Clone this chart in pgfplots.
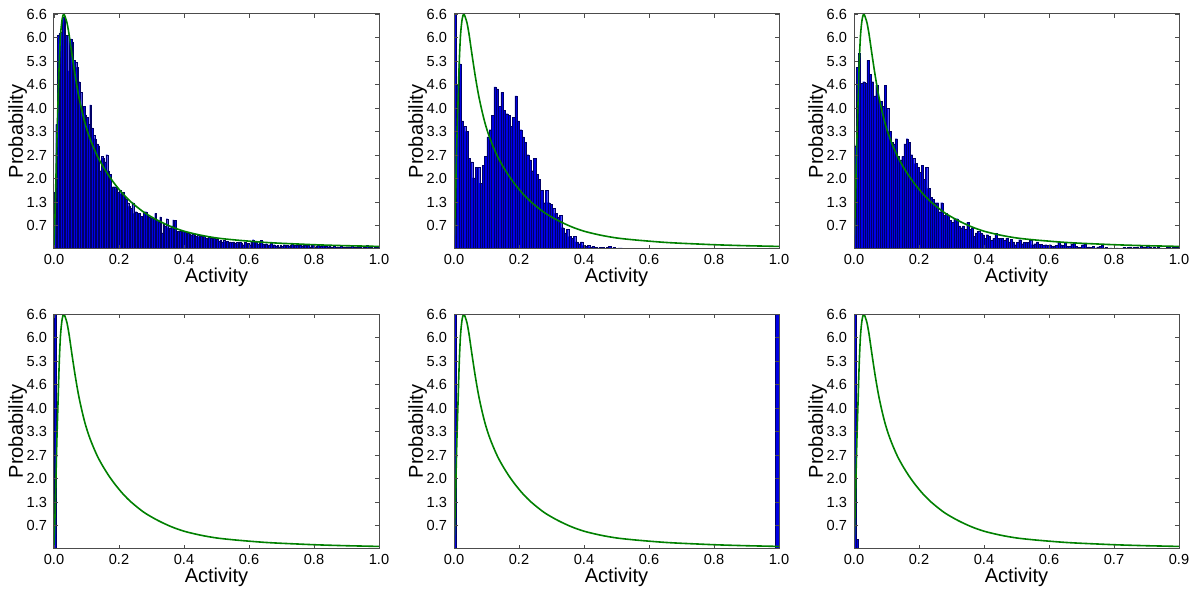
\documentclass[border=0pt]{standalone}
\usepackage{pgfplots}
\usepackage{pgfplotstable}
\usepackage{fontspec}
\setmainfont{Liberation Sans}
\pgfplotsset{compat=1.18}

\definecolor{curvegreen}{rgb}{0,0.5,0}

% fitted density
\pgfplotstableread[row sep=\\]{
x y\\
0 0\\ 0.003 0.9\\ 0.006 2.0\\ 0.009 3.1\\ 0.012 4.0\\ 0.016 5.2\\ 0.02 6.0\\ 0.025 6.45\\
0.03 6.6\\ 0.035 6.5\\ 0.04 6.35\\ 0.046 6.05\\ 0.05 5.8\\ 0.056 5.42\\ 0.065 4.88\\ 0.075 4.35\\
0.085 3.92\\ 0.095 3.55\\ 0.105 3.25\\ 0.115 3.0\\ 0.125 2.78\\ 0.135 2.58\\ 0.15 2.33\\ 0.17 2.04\\
0.19 1.79\\ 0.21 1.57\\ 0.23 1.38\\ 0.25 1.22\\ 0.28 1.01\\ 0.32 0.8\\ 0.36 0.63\\ 0.4 0.5\\
0.45 0.39\\ 0.5 0.31\\ 0.55 0.26\\ 0.6 0.22\\ 0.65 0.185\\ 0.7 0.16\\ 0.75 0.14\\ 0.8 0.12\\
0.85 0.105\\ 0.9 0.092\\ 0.95 0.082\\ 1.0 0.072\\
}\curve

% panel 1 histogram, bin width 0.005
\pgfplotstableread[row sep=\\]{
x y\\
0.0025 1.6\\ 0.0075 3.5\\ 0.0125 6.0\\ 0.0175 6.05\\ 0.0225 6.1\\ 0.0275 6.5\\ 0.0325 6.5\\ 0.0375 6.0\\
0.0425 6.0\\ 0.0475 5.0\\ 0.0525 5.9\\ 0.0575 5.8\\ 0.0625 5.3\\ 0.0675 5.25\\ 0.0725 5.1\\ 0.0775 4.7\\
0.0825 4.4\\ 0.0875 3.95\\ 0.0925 4.0\\ 0.0975 3.77\\ 0.1025 3.7\\ 0.1075 3.5\\ 0.1125 4.05\\ 0.1175 3.4\\
0.1225 3.2\\ 0.1275 3.1\\ 0.1325 2.95\\ 0.1375 2.9\\ 0.1425 2.2\\ 0.1475 2.6\\ 0.1525 2.55\\ 0.1575 2.45\\
0.1625 2.65\\ 0.1675 2.2\\ 0.1725 2.1\\ 0.1775 1.4\\ 0.1825 1.75\\ 0.1875 1.75\\ 0.1925 1.7\\ 0.1975 1.6\\
0.2025 1.65\\ 0.2075 1.55\\ 0.2125 1.6\\ 0.2175 1.48\\ 0.2225 1.4\\ 0.2275 1.3\\ 0.2325 1.2\\ 0.2375 1.15\\
0.2425 1.3\\ 0.2475 1.0\\ 0.2525 1.05\\ 0.2575 0.95\\ 0.2625 1.0\\ 0.2675 0.92\\ 0.2725 0.9\\ 0.2775 1.05\\
0.2825 1.05\\ 0.2875 0.95\\ 0.2925 0.9\\ 0.2975 0.87\\ 0.3025 0.88\\ 0.3075 0.85\\ 0.3125 1.0\\ 0.3175 0.8\\
0.3225 0.75\\ 0.3275 0.9\\ 0.3325 0.45\\ 0.3375 0.7\\ 0.3425 0.65\\ 0.3475 0.85\\ 0.3525 0.6\\ 0.3575 0.6\\
0.3625 0.65\\ 0.3675 0.82\\ 0.3725 0.8\\ 0.3775 0.45\\ 0.3825 0.5\\ 0.3875 0.5\\ 0.3925 0.48\\ 0.3975 0.5\\
0.4025 0.47\\ 0.4075 0.45\\ 0.4125 0.45\\ 0.4175 0.42\\ 0.4225 0.4\\ 0.4275 0.42\\ 0.4325 0.38\\ 0.4375 0.35\\
0.4425 0.4\\ 0.4475 0.33\\ 0.4525 0.35\\ 0.4575 0.3\\ 0.4625 0.35\\ 0.4675 0.3\\ 0.4725 0.18\\ 0.4775 0.32\\
0.4825 0.3\\ 0.4875 0.28\\ 0.4925 0.3\\ 0.4975 0.25\\ 0.5025 0.27\\ 0.5075 0.22\\ 0.5125 0.25\\ 0.5175 0.2\\
0.5225 0.24\\ 0.5275 0.2\\ 0.5325 0.22\\ 0.5375 0.15\\ 0.5425 0.2\\ 0.5475 0.18\\ 0.5525 0.2\\ 0.5575 0.17\\
0.5625 0.18\\ 0.5675 0.15\\ 0.5725 0.2\\ 0.5775 0.17\\ 0.5825 0.12\\ 0.5875 0.18\\ 0.5925 0.15\\ 0.5975 0.16\\
0.6025 0.12\\ 0.6075 0.22\\ 0.6125 0.26\\ 0.6175 0.15\\ 0.6225 0.18\\ 0.6275 0.14\\ 0.6325 0.2\\ 0.6375 0.24\\
0.6425 0.15\\ 0.6475 0.12\\ 0.6525 0.15\\ 0.6575 0.1\\ 0.6625 0.12\\ 0.6675 0.16\\ 0.6725 0.1\\ 0.6775 0.12\\
0.6825 0.08\\ 0.6875 0.1\\ 0.6925 0.06\\ 0.6975 0.1\\ 0.7025 0.08\\ 0.7075 0.12\\ 0.7125 0.06\\ 0.7175 0.1\\
0.7225 0.08\\ 0.7275 0.1\\ 0.7325 0.15\\ 0.7375 0.08\\ 0.7425 0.1\\ 0.7475 0.12\\ 0.7525 0.06\\ 0.7575 0.1\\
0.7625 0.08\\ 0.7675 0.13\\ 0.7725 0.1\\ 0.7775 0.08\\ 0.7825 0.12\\ 0.7875 0.06\\ 0.7925 0.1\\ 0.7975 0.14\\
0.8025 0.05\\ 0.8075 0.08\\ 0.8125 0.1\\ 0.8175 0.06\\ 0.8225 0.08\\ 0.8275 0.1\\ 0.8325 0.05\\ 0.8375 0.08\\
0.8425 0.06\\ 0.8475 0.1\\ 0.8525 0.06\\ 0.8575 0.05\\ 0.8625 0.08\\ 0.8675 0.05\\ 0.8725 0.06\\ 0.8775 0.04\\
0.8825 0.08\\ 0.8875 0.05\\ 0.8925 0.06\\ 0.8975 0.04\\ 0.9025 0.05\\ 0.9075 0.06\\ 0.9125 0.03\\ 0.9175 0.1\\
0.9225 0.05\\ 0.9275 0.06\\ 0.9325 0.04\\ 0.9375 0.05\\ 0.9425 0.06\\ 0.9475 0.03\\ 0.9525 0.05\\ 0.9575 0.04\\
0.9625 0.1\\ 0.9675 0.06\\ 0.9725 0.04\\ 0.9775 0.05\\ 0.9825 0.03\\ 0.9875 0.06\\ 0.9925 0.04\\ 0.9975 0.05\\
}\histA

% panel 2 histogram, bin width 0.0072
\pgfplotstableread[row sep=\\]{
x y\\
0.0036 9\\ 0.0108 4.6\\ 0.018 5.2\\ 0.0252 3.6\\ 0.0324 3.45\\ 0.0396 3.3\\ 0.0468 2.55\\ 0.054 2.45\\
0.0612 2.0\\ 0.0684 2.3\\ 0.0756 2.3\\ 0.0828 1.85\\ 0.09 2.35\\ 0.0972 2.6\\ 0.1044 3.15\\ 0.1116 3.35\\
0.1188 3.75\\ 0.126 4.55\\ 0.1332 4.5\\ 0.1404 4.0\\ 0.1476 4.4\\ 0.1548 3.9\\ 0.162 3.8\\ 0.1692 3.75\\
0.1764 3.45\\ 0.1836 3.7\\ 0.1908 4.3\\ 0.198 3.6\\ 0.2052 3.35\\ 0.2124 3.15\\ 0.2196 3.0\\ 0.2268 2.65\\
0.234 2.5\\ 0.2412 2.2\\ 0.2484 2.55\\ 0.2556 2.1\\ 0.2628 1.95\\ 0.27 1.65\\ 0.2772 1.3\\ 0.2844 1.65\\
0.2916 1.3\\ 0.2988 1.25\\ 0.306 1.15\\ 0.3132 1.0\\ 0.3204 0.9\\ 0.3276 0.95\\ 0.3348 0.6\\ 0.342 0.45\\
0.3492 0.55\\ 0.3564 0.35\\ 0.3636 0.3\\ 0.3708 0.35\\ 0.378 0.2\\ 0.3852 0.15\\ 0.3924 0.2\\ 0.3996 0.1\\
0.4068 0.08\\ 0.414 0.1\\ 0.4212 0.06\\ 0.4284 0.08\\ 0.4356 0.05\\ 0.4428 0.03\\ 0.45 0.05\\ 0.4572 0.04\\
0.4644 0.02\\ 0.4716 0.05\\ 0.4788 0.07\\ 0.486 0.03\\ 0.4932 0.04\\ 0.5004 0.02\\ 0.5076 0.03\\ 0.5148 0.03\\
}\histB

% panel 3 histogram, bin width 1/150
\pgfplotstableread[row sep=\\]{
x y\\
0.0033 2.9\\ 0.01 5.1\\ 0.0167 5.5\\ 0.0233 4.65\\ 0.03 4.7\\ 0.0367 4.65\\ 0.0433 5.3\\ 0.05 4.9\\
0.0567 4.7\\ 0.0633 4.3\\ 0.07 4.6\\ 0.0767 4.15\\ 0.0833 4.15\\ 0.09 4.0\\ 0.0967 4.6\\ 0.1033 3.95\\
0.11 3.3\\ 0.1167 3.0\\ 0.1233 2.95\\ 0.13 3.1\\ 0.1367 2.6\\ 0.1433 2.5\\ 0.15 2.6\\ 0.1567 2.95\\
0.1633 3.1\\ 0.17 3.0\\ 0.1767 2.65\\ 0.1833 2.55\\ 0.19 2.4\\ 0.1967 2.3\\ 0.2033 2.15\\ 0.21 2.35\\
0.2167 1.95\\ 0.2233 2.3\\ 0.23 1.7\\ 0.2367 1.45\\ 0.2433 1.4\\ 0.25 1.3\\ 0.2567 1.3\\ 0.2633 1.05\\
0.27 1.3\\ 0.2767 0.95\\ 0.2833 1.0\\ 0.29 0.95\\ 0.2967 0.8\\ 0.3033 0.75\\ 0.31 0.85\\ 0.3167 0.85\\
0.3233 0.65\\ 0.33 0.6\\ 0.3367 0.65\\ 0.3433 0.55\\ 0.35 0.75\\ 0.3567 0.55\\ 0.3633 0.6\\ 0.37 0.35\\
0.3767 0.45\\ 0.3833 0.5\\ 0.39 0.45\\ 0.3967 0.4\\ 0.4033 0.3\\ 0.41 0.4\\ 0.4167 0.35\\ 0.4233 0.25\\
0.43 0.3\\ 0.4367 0.44\\ 0.4433 0.3\\ 0.45 0.3\\ 0.4567 0.3\\ 0.4633 0.25\\ 0.47 0.3\\ 0.4767 0.2\\
0.4833 0.28\\ 0.49 0.2\\ 0.4967 0.12\\ 0.5033 0.18\\ 0.51 0.26\\ 0.5167 0.15\\ 0.5233 0.19\\ 0.53 0.19\\
0.5367 0.19\\ 0.5433 0.24\\ 0.55 0.12\\ 0.5567 0.15\\ 0.5633 0.2\\ 0.57 0.14\\ 0.5767 0.14\\ 0.5833 0.1\\
0.59 0.12\\ 0.5967 0.1\\ 0.6033 0.12\\ 0.61 0.08\\ 0.6167 0.09\\ 0.6233 0.1\\ 0.63 0.19\\ 0.6367 0.12\\
0.6433 0.1\\ 0.65 0.19\\ 0.6567 0.08\\ 0.6633 0.07\\ 0.67 0.14\\ 0.6767 0.19\\ 0.6833 0.07\\ 0.69 0.05\\
0.6967 0.04\\ 0.7033 0.12\\ 0.71 0.15\\ 0.7167 0.05\\ 0.7233 0.06\\ 0.73 0.04\\ 0.7367 0.08\\ 0.7433 0.03\\
0.75 0.06\\ 0.7567 0.07\\ 0.7633 0.1\\ 0.77 0.03\\ 0.7767 0.05\\ 0.7833 0.02\\ 0.79 0.03\\ 0.7967 0\\
0.8033 0\\ 0.81 0.03\\ 0.8167 0.02\\ 0.8233 0\\ 0.83 0.04\\ 0.8367 0.03\\ 0.8433 0.05\\ 0.85 0.05\\
0.8567 0.03\\ 0.8633 0.04\\ 0.87 0.05\\ 0.8767 0.03\\ 0.8833 0.07\\ 0.89 0.04\\ 0.8967 0.05\\ 0.9033 0.08\\
0.91 0.04\\ 0.9167 0.03\\ 0.9233 0.06\\ 0.93 0.03\\ 0.9367 0.04\\ 0.9433 0.03\\ 0.95 0.02\\ 0.9567 0\\
0.9633 0.04\\ 0.97 0.05\\ 0.9767 0.03\\ 0.9833 0.06\\ 0.99 0.04\\ 0.9967 0.05\\
}\histC

\pgfplotsset{
  act/.style={
    scale only axis, width=162.5pt, height=117.5pt,
    xmin=0, xmax=1, ymin=0, ymax=6.6,
    xtick={0,0.2,0.4,0.6,0.8,1.0},
    xticklabels={0.0,0.2,0.4,0.6,0.8,1.0},
    ytick={0.66,1.32,1.98,2.64,3.3,3.96,4.62,5.28,5.94,6.6},
    yticklabels={0.7,1.3,2.0,2.7,3.3,4.0,4.6,5.3,6.0,6.6},
    tick align=inside, tick pos=both, major tick length=2pt,
    tick style={black!70, line width=0.4pt},
    axis line style={black!70, line width=0.5pt},
    tick label style={font=\fontsize{7.3}{8}\selectfont},
    xticklabel style={yshift=1pt},
    label style={font=\fontsize{10}{12}\selectfont},
    xlabel={Activity}, ylabel={Probability},
    xlabel style={yshift=5pt}, ylabel style={yshift=-7pt},
    axis on top,
  },
  bars/.style={ybar, bar shift=0pt, fill=blue!90!black, draw=black!60!blue, line width=0.1pt},
  fit/.style={curvegreen, line width=0.8pt, smooth, no markers},
}

\begin{document}
\begin{tikzpicture}
% top row
\begin{axis}[act, at={(0pt,150pt)}]
\addplot[bars, bar width=0.005] table {\histA};
\addplot[fit] table {\curve};
\end{axis}
\begin{axis}[act, at={(200pt,150pt)}]
\addplot[bars, bar width=0.0072] table {\histB};
\addplot[fit] table {\curve};
\end{axis}
\begin{axis}[act, at={(400pt,150pt)}]
\addplot[bars, bar width=0.00667] table {\histC};
\addplot[fit] table {\curve};
\end{axis}
% bottom row
\begin{axis}[act, at={(0pt,0pt)}]
\addplot[bars, bar width=0.007] coordinates {(0.0035,50)};
\addplot[fit] table {\curve};
\end{axis}
\begin{axis}[act, at={(200pt,0pt)}]
\addplot[bars, bar width=0.006] coordinates {(0.003,50)};
\addplot[bars, bar width=0.012] coordinates {(0.994,50)};
\addplot[fit] table {\curve};
\end{axis}
\begin{axis}[act, at={(400pt,0pt)},
  xticklabels={0.0,0.2,0.4,0.6,0.7,0.9}]
\addplot[bars, bar width=0.006] coordinates {(0.003,50)};
\addplot[bars, bar width=0.008] coordinates {(0.01,0.28)};
\addplot[fit] table {\curve};
\end{axis}
\pgfresetboundingbox
\path (-27pt,-21.5pt) rectangle (569.5pt,274.5pt);
\end{tikzpicture}
\end{document}
